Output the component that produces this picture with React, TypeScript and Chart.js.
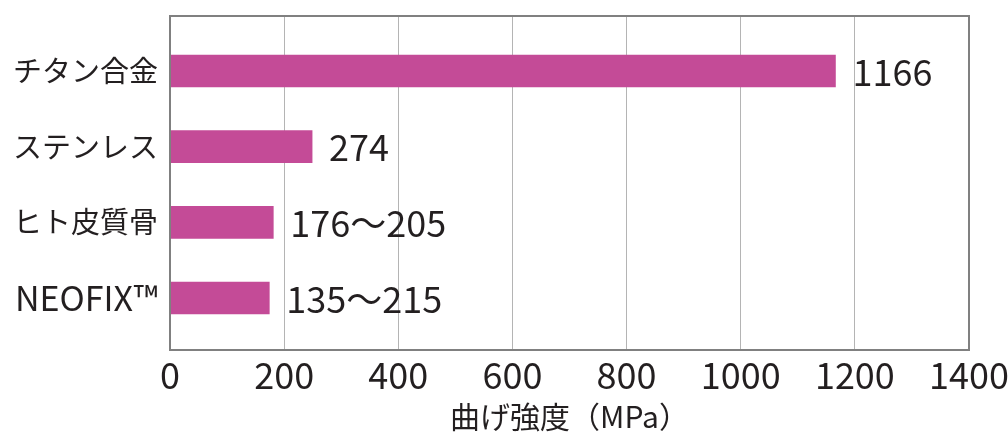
import React, { useEffect, useRef } from "react";
import { Chart, registerables } from "chart.js";

Chart.register(...registerables);

const categories = ["チタン合金", "ステンレス", "ヒト皮質骨", "NEOFIX™"];
const barValues = [1166, 249, 181, 174];
const valueLabels = ["1166", "274", "176～205", "135～215"];
const xTicks = [0, 200, 400, 600, 800, 1000, 1200, 1400];
const xTitle = "曲げ強度（MPa）";

const FONT = "'Noto Sans CJK JP', 'Noto Sans', sans-serif";
const TEXT = "#231f20";
const BAR = "#c44b97";
const FRAME = "#808080";
const GRID = "#b4b4b4";

const framePlugin = {
  id: "frame",
  afterDraw(chart: any) {
    const { ctx, chartArea } = chart;
    ctx.save();
    ctx.strokeStyle = FRAME;
    ctx.lineWidth = 2;
    ctx.strokeRect(chartArea.left, chartArea.top, chartArea.right - chartArea.left, chartArea.bottom - chartArea.top);
    ctx.restore();
  },
};

const labelPlugin = {
  id: "valueLabels",
  afterDatasetsDraw(chart: any) {
    const { ctx } = chart;
    const meta = chart.getDatasetMeta(0);
    ctx.save();
    ctx.font = `36px ${FONT}`;
    ctx.fillStyle = TEXT;
    ctx.textAlign = "left";
    ctx.textBaseline = "middle";
    meta.data.forEach((el: any, i: number) => {
      ctx.fillText(valueLabels[i], el.x + 17, el.y + 1);
    });
    ctx.restore();
  },
};

export default function App() {
  const ref = useRef<HTMLCanvasElement | null>(null);
  useEffect(() => {
    if (!ref.current) return;
    const chart = new Chart(ref.current, {
      type: "bar",
      data: {
        datasets: [
          {
            data: barValues.map((v, i) => ({ x: v, y: i })) as any,
            backgroundColor: BAR,
            barThickness: 32,
          },
        ],
      },
      options: {
        animation: false,
        responsive: false,
        indexAxis: "y",
        layout: { padding: { top: 16, right: 39, left: 0, bottom: 0 } },
        plugins: { legend: { display: false }, tooltip: { enabled: false } },
        scales: {
          x: {
            type: "linear",
            min: 0,
            max: 1400,
            offset: false,
            afterBuildTicks: (axis: any) => {
              axis.ticks = xTicks.map((v) => ({ value: v }));
            },
            afterFit: (axis: any) => {
              axis.height = 82;
              axis.paddingLeft = 0;
              axis.paddingRight = 0;
            },
            grid: { color: GRID, lineWidth: 1, drawTicks: false, offset: false },
            border: { display: false },
            ticks: {
              color: TEXT,
              font: { family: FONT, size: 36 },
              padding: 4,
              maxRotation: 0,
              callback: (v: any) => String(v),
            },
            title: {
              display: true,
              text: xTitle,
              color: TEXT,
              font: { family: FONT, size: 30, lineHeight: 1.0 },
              padding: { top: 0, bottom: 0 },
            },
          },
          y: {
            type: "linear",
            reverse: true,
            offset: false,
            min: -0.727,
            max: 3.687,
            afterBuildTicks: (axis: any) => {
              axis.ticks = categories.map((_, i) => ({ value: i }));
            },
            afterFit: (axis: any) => {
              axis.width = 170;
              axis.paddingTop = 0;
              axis.paddingBottom = 0;
            },
            grid: { display: false, drawTicks: false, offset: false },
            border: { display: false },
            ticks: {
              color: TEXT,
              font: (c: any) => ({ family: FONT, size: c.index === 3 ? 34 : 29 }),
              padding: 12,
              callback: (v: any) => categories[Number(v)] ?? "",
            },
          },
        },
      },
      plugins: [framePlugin, labelPlugin],
    });
    return () => chart.destroy();
  }, []);
  return (
    <div style={{ position: "fixed", left: 0, top: 0, width: 1008, height: 432, background: "#fff" }}>
      <canvas ref={ref} width={1008} height={432} style={{ width: 1008, height: 432 }} />
    </div>
  );
}
